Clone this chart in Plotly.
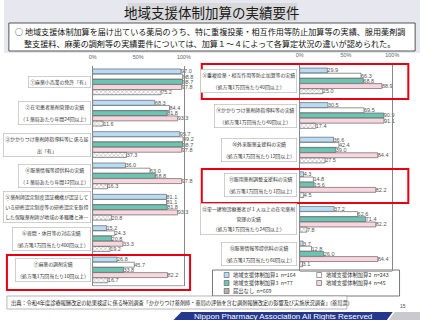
import plotly.graph_objects as go

W, H = 427, 320
def px(x):
    return x / W
def py(y):
    return 1 - y / H

JP = "Noto Sans CJK JP"

# ---------------- data ----------------
series_names = ["地域支援体制加算1", "地域支援体制加算2", "地域支援体制加算3", "地域支援体制加算4", "届出なし"]
series_n = [164, 243, 77, 45, 669]

left_ids = ["①", "②", "③", "④", "⑤", "⑥", "⑦"]
left_labels = [
    ["①麻薬小売業の免許「有」"],
    ["②在宅患者薬剤管理の実績", "（１薬局あたり年間24回以上）"],
    ["③かかりつけ薬剤師指導料等に係る届", "出「有」"],
    ["④服薬情報等提供料の実績", "（１薬局あたり年間12回以上）"],
    ["⑤薬剤師認定制度認証機構が認証して", "いる研修認定制度等の研修認定を取得", "した保険薬剤師が地域の多職種と連…"],
    ["⑥夜間・休日等の対応実績", "（処方箋1万回当たり400回以上）"],
    ["⑦麻薬の調剤実績", "（処方箋1万回当たり10回以上）"],
]
left_kasan1 = [97.0, 68.3, 95.7, 36.0, 81.1, 15.2, 26.8]
left_kasan2 = [98.8, 84.4, 99.2, 63.0, 81.1, 24.3, 45.7]
left_kasan3 = [98.7, 81.8, 98.7, 68.8, 81.8, 20.8, 33.8]
left_kasan4 = [97.8, 93.3, 97.8, 97.8, 93.3, 33.3, 82.2]
left_none = [75.2, 11.6, 37.3, 16.3, 20.8, 19.2, 16.7]

right_ids = ["⑧", "⑨", "⑩", "⑪", "⑫", "⑬"]
right_labels = [
    ["⑧重複投薬・相互作用等防止加算等の実績", "（処方箋1万回当たり40回以上）"],
    ["⑨かかりつけ薬剤師指導料等の実績", "（処方箋1万回当たり40回以上）"],
    ["⑩外来服薬支援料の実績", "（処方箋1万回当たり12回以上）"],
    ["⑪服用薬剤調整支援料の実績", "（処方箋1万回当たり1回以上）"],
    ["⑫単一建物診療患者が１人以上の在宅薬剤", "管理の実績", "（処方箋1万回当たり24回以上）"],
    ["⑬服薬情報等提供料の実績", "（処方箋1万回当たり60回以上）"],
]
right_kasan1 = [29.9, 30.5, 36.6, 4.3, 37.2, 3.7]
right_kasan2 = [66.3, 69.5, 42.4, 14.8, 62.6, 12.8]
right_kasan3 = [68.8, 90.9, 39.0, 15.6, 71.4, 26.0]
right_kasan4 = [88.9, 91.1, 84.4, 82.2, 82.2, 84.4]
right_none = [25.0, 17.4, 27.5, 4.5, 7.8, 3.1]

tick_vals = [0, 50, 100]
tick_text = ["0%", "50%", "100%"]

# ---------------- styles ----------------
fills = ["#b9dcf6", "#ffffff", "#6dc4b2", "#f9d5dd", "#ffffff"]
outline = "#666666"

fig = go.Figure()

def add_panel(ids, values_list, xa, ya, slot, bw):
    n = len(values_list)
    start = -slot * n / 2
    for k, vals in enumerate(values_list):
        marker = dict(color=fills[k], line=dict(color=outline, width=0.7))
        if k == 4:
            marker["pattern"] = dict(shape="x", fgcolor="#666666", bgcolor="#ffffff",
                                     size=3, solidity=0.35)
        fig.add_trace(go.Bar(
            x=vals, y=ids, orientation="h", xaxis=xa, yaxis=ya,
            name=series_names[k], showlegend=False,
            offset=start + k * slot, width=bw,
            marker=marker,
            texttemplate="%{x:.1f}", textposition="outside",
            textfont=dict(size=5.5, color="#555555", family="Liberation Sans"),
            constraintext="none", cliponaxis=False,
            hoverinfo="skip",
        ))

add_panel(left_ids, [left_kasan1, left_kasan2, left_kasan3, left_kasan4, left_none],
          "x", "y", 0.166, 0.158)
add_panel(right_ids, [right_kasan1, right_kasan2, right_kasan3, right_kasan4, right_none],
          "x2", "y2", 0.150, 0.143)

xcommon = dict(range=[0, 100], side="top", tickvals=tick_vals, ticktext=tick_text,
               tickfont=dict(size=5.5, color="#666666", family="Liberation Sans"),
               ticks="outside", ticklen=4, tickcolor="rgba(0,0,0,0)",
               showgrid=False, zeroline=False, showline=False, fixedrange=True)
ycommon = dict(type="category", autorange="reversed", showticklabels=False,
               showline=True, mirror=True, linecolor="#888888", linewidth=0.8,
               showgrid=False, ticks="", fixedrange=True)

fig.update_layout(
    xaxis=dict(domain=[px(91), px(184.5)], anchor="y", **xcommon),
    yaxis=dict(domain=[py(285.7), py(66.3)], anchor="x", **ycommon),
    xaxis2=dict(domain=[px(303.5), px(398.5)], anchor="y2", **xcommon),
    yaxis2=dict(domain=[py(271.3), py(63.7)], anchor="x2", **ycommon),
    barmode="overlay",
    width=W, height=H, margin=dict(l=0, r=0, t=0, b=0),
    paper_bgcolor="#ffffff", plot_bgcolor="rgba(0,0,0,0)",
    showlegend=False,
)

shapes = []
annotations = []

# header background
shapes.append(dict(type="rect", xref="paper", yref="paper", x0=0, x1=1, y0=py(53), y1=1,
                   fillcolor="#e7e7ef", line=dict(width=0), layer="below"))
shapes.append(dict(type="rect", xref="paper", yref="paper", x0=px(127), x1=px(301),
                   y0=py(21), y1=py(3), fillcolor="#d9d9dc", line=dict(width=0), layer="below"))
annotations.append(dict(text="地域支援体制加算の実績要件", xref="paper", yref="paper",
                        x=px(214), y=py(12), showarrow=False, xanchor="center", yanchor="middle",
                        font=dict(size=13.5, color="#1a1a1a", family=JP)))
# summary box
shapes.append(dict(type="rect", xref="paper", yref="paper", x0=px(5), x1=px(422),
                   y0=py(51), y1=py(23), fillcolor="#ffffff",
                   line=dict(color="#555555", width=1), layer="below"))
annotations.append(dict(text="○ 地域支援体制加算を届け出ている薬局のうち、特に重複投薬・相互作用等防止加算等の実績、服用薬剤調",
                        xref="paper", yref="paper", x=px(9), y=py(31.5), showarrow=False,
                        xanchor="left", yanchor="middle",
                        font=dict(size=8.1, color="#111111", family=JP)))
annotations.append(dict(text="整支援料、麻薬の調剤等の実績要件については、加算１～４によって各算定状況の違いが認められた。",
                        xref="paper", yref="paper", x=px(18), y=py(43.5), showarrow=False,
                        xanchor="left", yanchor="middle",
                        font=dict(size=8.1, color="#111111", family=JP)))

# bottom lines of plot frames
for xa, ya in (("x", "y"), ("x2", "y2")):
    shapes.append(dict(type="line", xref=xa + " domain", yref=ya + " domain",
                       x0=0, x1=1, y0=0, y1=0, line=dict(color="#888888", width=0.8)))

# category label boxes
def add_labels(ids, labels, yref, xright):
    for cid, lines in zip(ids, labels):
        nl = len(lines)
        spacing = 12 if nl == 2 else (10 if nl == 3 else 9)
        txt = "<br>".join("<span style='font-size:4.9px'>%s</span>" % l for l in lines)
        annotations.append(dict(text=txt, xref="paper", yref=yref, x=px(xright), y=cid,
                                showarrow=False, xanchor="right", yanchor="middle", align="center",
                                font=dict(size=spacing / 1.3, color="#333333", family=JP),
                                bordercolor="#bbbbbb", borderwidth=0.7, borderpad=1.5,
                                bgcolor="#ffffff"))

add_labels(left_ids, left_labels, "y", 89.5)
add_labels(right_ids, right_labels, "y2", 301)

# red highlight boxes
red = dict(color="#e60012", width=2)
for (x0, y0, x1, y1) in [(3, 255, 191, 290), (203, 64, 415, 99), (203, 169, 415, 203)]:
    shapes.append(dict(type="rect", xref="paper", yref="paper", x0=px(x0), x1=px(x1),
                       y0=py(y1), y1=py(y0), line=red, fillcolor="rgba(0,0,0,0)"))

# legend (manual)
shapes.append(dict(type="rect", xref="paper", yref="paper", x0=px(214), x1=px(406),
                   y0=py(296), y1=py(270), line=dict(color="#555555", width=0.8),
                   fillcolor="#ffffff", layer="below"))
leg_pos = [(226, 275), (321, 275), (226, 283), (321, 283), (226, 291)]
leg_fill = ["#b9dcf6", "#ffffff", "#6dc4b2", "#f9d5dd", "#b0b0b0"]
for k, (lx, ly) in enumerate(leg_pos):
    shapes.append(dict(type="rect", xref="paper", yref="paper", x0=px(lx), x1=px(lx + 5),
                       y0=py(ly + 2.5), y1=py(ly - 2.5), fillcolor=leg_fill[k],
                       line=dict(color="#555555", width=0.6)))
    annotations.append(dict(text="%s  n=%d" % (series_names[k], series_n[k]),
                            xref="paper", yref="paper", x=px(lx + 7), y=py(ly),
                            showarrow=False, xanchor="left", yanchor="middle",
                            font=dict(size=5.3, color="#333333", family=JP)))

# source
shapes.append(dict(type="rect", xref="paper", yref="paper", x0=px(3), x1=px(352),
                   y0=py(309), y1=py(296), line=dict(color="#999999", width=0.7),
                   fillcolor="#ffffff", layer="below"))
annotations.append(dict(text="出典：令和4年度診療報酬改定の結果検証に係る特別調査「かかりつけ薬剤師・薬局の評価を含む調剤報酬改定の影響及び実施状況調査」(薬局票)",
                        xref="paper", yref="paper", x=px(5), y=py(302.5), showarrow=False,
                        xanchor="left", yanchor="middle",
                        font=dict(size=5.2, color="#222222", family=JP)))

# footer
shapes.append(dict(type="path", xref="paper", yref="paper",
                   path="M %f %f L %f %f L %f %f L %f %f Z" % (px(182), py(312), px(399), py(312),
                                                              px(393), py(320), px(174), py(320)),
                   fillcolor="#24378a", line=dict(width=0)))
shapes.append(dict(type="path", xref="paper", yref="paper",
                   path="M %f %f L %f %f L %f %f L %f %f Z" % (px(401), py(312), px(427), py(312),
                                                              px(427), py(320), px(395), py(320)),
                   fillcolor="#c9c9cf", line=dict(width=0)))
annotations.append(dict(text="Nippon Pharmacy Association All Rights Reserved",
                        xref="paper", yref="paper", x=px(286), y=py(316), showarrow=False,
                        xanchor="center", yanchor="middle",
                        font=dict(size=8, color="#ffffff", family="Liberation Sans")))
annotations.append(dict(text="15", xref="paper", yref="paper", x=px(410), y=py(306),
                        showarrow=False, xanchor="center", yanchor="middle",
                        font=dict(size=5, color="#555555", family="Liberation Sans")))

fig.update_layout(shapes=shapes, annotations=annotations)
fig.write_html("out.html")
